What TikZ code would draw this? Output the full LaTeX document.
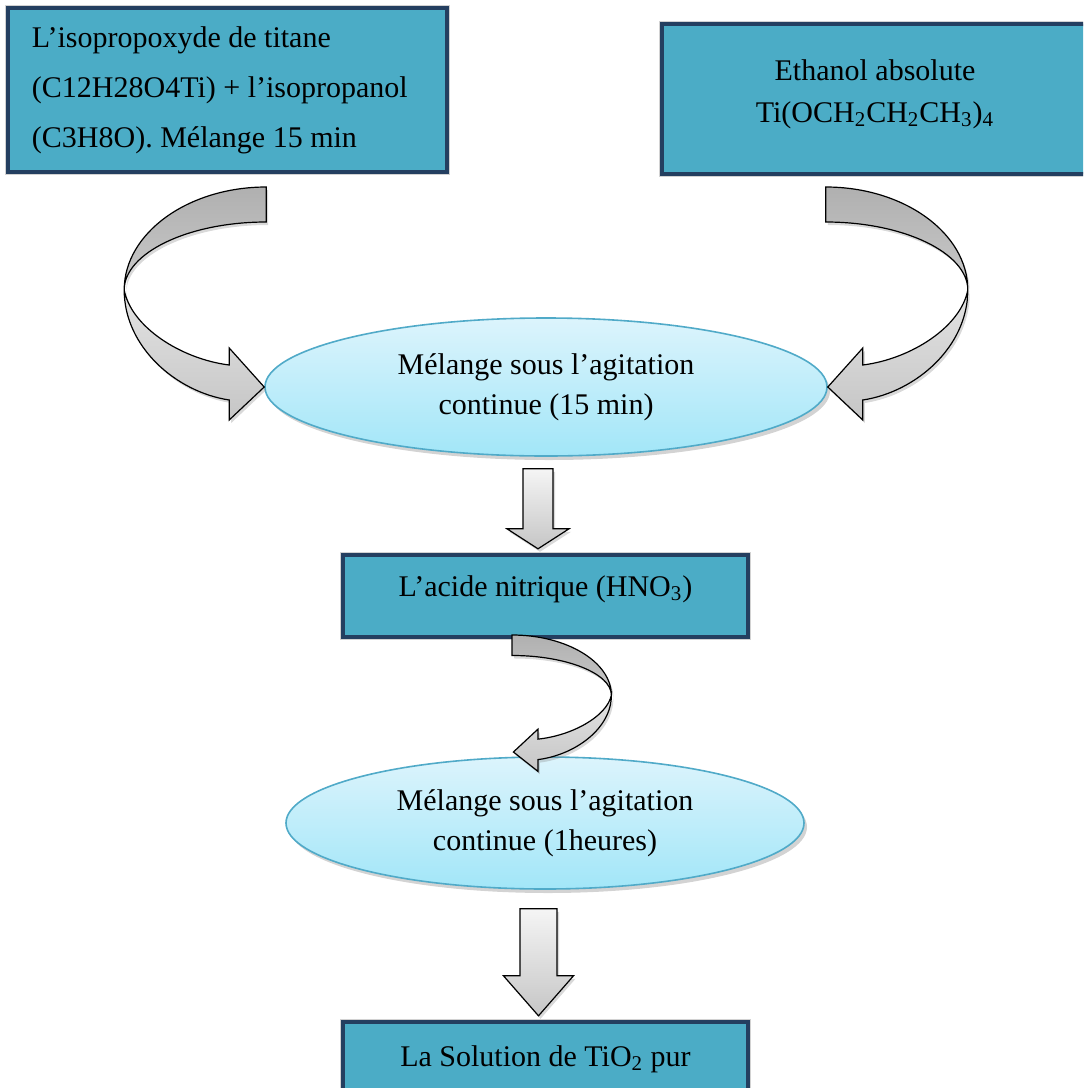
\documentclass[tikz,border=0pt]{standalone}
\usepackage{fontspec}
\setmainfont{Liberation Serif}
\usetikzlibrary{shapes.geometric,shadows,calc}
\definecolor{boxfill}{RGB}{75,172,198}
\definecolor{boxline}{RGB}{36,63,96}
\definecolor{ovaltop}{RGB}{220,244,252}
\definecolor{ovalbot}{RGB}{162,230,248}
\definecolor{ovalline}{RGB}{80,170,200}

\tikzset{
  ribbon/.pic={
    % back face of the bent arrow
    \path[draw=black,line width=0.6pt,top color=gray!62,bottom color=gray!42,
          drop shadow={opacity=0.3,shadow xshift=1pt,shadow yshift=-1.5pt}]
      (0,0) .. controls (-78,0) and (-142,46) .. (-142,103)
            .. controls (-142,66) and (-78,35) .. (0,35) -- cycle;
    % front face with the head
    \path[draw=black,line width=0.6pt,top color=gray!22,bottom color=gray!45,
          drop shadow={opacity=0.3,shadow xshift=1pt,shadow yshift=-1.5pt}]
      (-142,103) .. controls (-142,160) and (-90,205) .. (-37,213)
      -- (-37,233) -- (-2,200) -- (-37,161) -- (-37,178)
      .. controls (-85,172) and (-135,140) .. (-142,103) -- cycle;
  },
  % #1 half shaft, #2 shaft length, #3 half head, #4 head length
  pics/fatdown/.style n args={4}{code={
    \path[draw=black,line width=0.6pt,top color=gray!8,bottom color=gray!45,
          drop shadow={opacity=0.3,shadow xshift=1pt,shadow yshift=-1.5pt}]
      (-#1,0) -- (#1,0) -- (#1,#2) -- (#3,#2) -- (0,{#2+#4})
      -- (-#3,#2) -- (-#1,#2) -- cycle;
  }}
}

\begin{document}
\begin{tikzpicture}[
    x=0.5pt,y=-0.5pt,
    box/.style={draw=boxline,line width=2pt,fill=boxfill,inner sep=0pt,
                preaction={draw=gray!35,line width=3pt},
                font=\fontsize{15}{18}\selectfont},
    oval/.style={ellipse,draw=ovalline,line width=0.8pt,top color=ovaltop,
                 bottom color=ovalbot,inner sep=0pt,align=center,
                 font=\fontsize{15}{20}\selectfont,
                 drop shadow={opacity=0.35,shadow xshift=1.5pt,shadow yshift=-2pt}},
  ]
  \useasboundingbox (0,0) rectangle (1083,1088);
  \clip (0,0) rectangle (1083,1088);

  % starting products
  \node[box,minimum width=219.5pt,minimum height=82pt,text width=195.5pt,
        inner xsep=12pt,align=flush left] (ttip) at (227.5,90)
    {L’isopropoxyde de titane\\[7pt](C12H28O4Ti) + l’isopropanol\\[7pt](C3H8O). Mélange 15 min};
  \node[box,minimum width=213pt,minimum height=75pt,align=center] (ethanol) at (875,99)
    {Ethanol absolute\\[3pt]Ti(OCH\textsubscript{2}CH\textsubscript{2}CH\textsubscript{3})\textsubscript{4}\\[-10pt]\mbox{}};

  % mixing and acid
  \node[oval,minimum width=281pt,minimum height=69pt] (mix1) at (546,387)
    {Mélange sous l’agitation\\continue (15 min)};
  \node[box,minimum width=202.5pt,minimum height=41pt,text height=10pt,
        text depth=10pt] (hno3) at (545.5,596)
    {L’acide nitrique (HNO\textsubscript{3})};
  \node[oval,minimum width=259pt,minimum height=66pt] (mix2) at (545,823)
    {Mélange sous l’agitation\\continue (1heures)};
  \node[box,minimum width=202.5pt,minimum height=37pt] (solution) at (545.5,1059)
    {La Solution de TiO\textsubscript{2} pur};

  % arrows
  \pic at ($(mix1.west)+(2,-200)$) {ribbon};
  \pic[xscale=-1] at ($(mix1.east)+(-2,-200)$) {ribbon};
  \pic at ($(mix1.south)+(-8,12)$) {fatdown={15}{60}{31}{20}};
  \pic[xscale=-0.7,yscale=0.585] at ($(hno3.south)+(-33.5,-4)$) {ribbon};
  \pic at ($(mix2.south)+(-6.5,19)$) {fatdown={18.5}{67}{35}{40}};
\end{tikzpicture}
\end{document}
